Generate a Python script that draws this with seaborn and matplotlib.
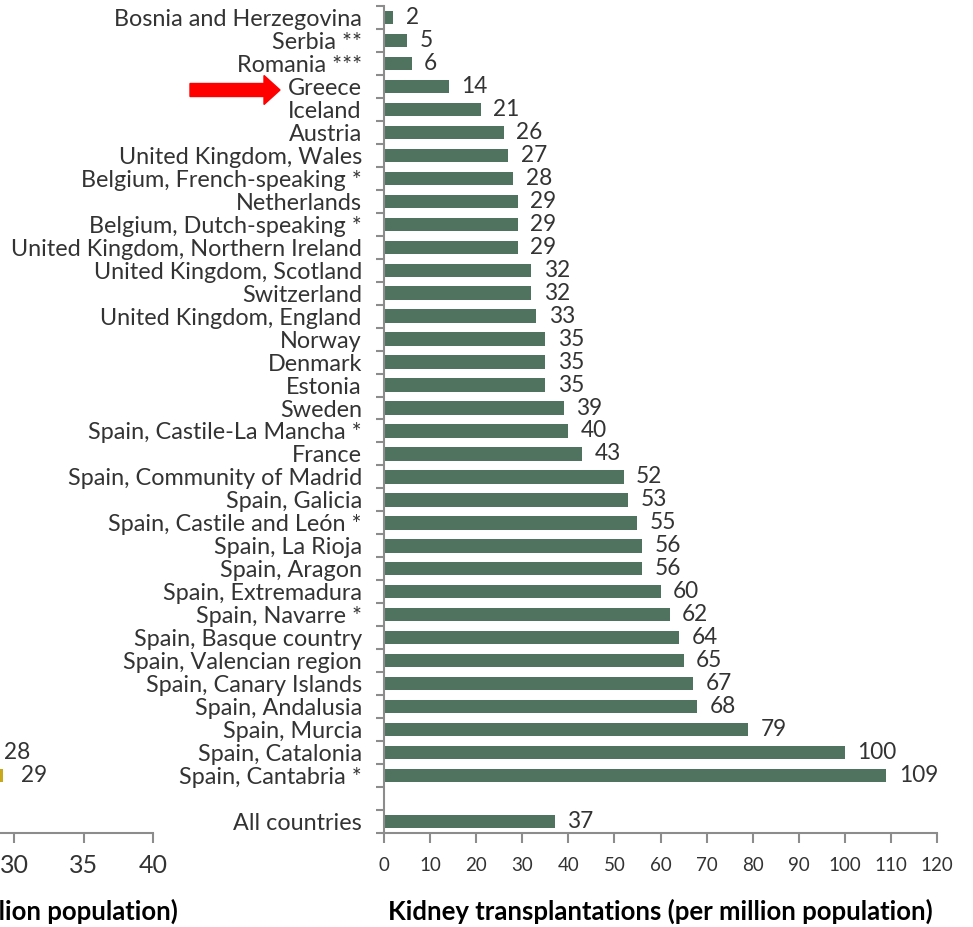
import numpy as np
import pandas as pd
import matplotlib
matplotlib.use("Agg")
import matplotlib.pyplot as plt
import matplotlib.ticker as ticker
from matplotlib.patches import FancyArrow
from matplotlib.transforms import IdentityTransform
import seaborn as sns

countries = ["Bosnia and Herzegovina", "Serbia **", "Romania ***", "Greece", "Iceland",
             "Austria", "United Kingdom, Wales", "Belgium, French-speaking *", "Netherlands",
             "Belgium, Dutch-speaking *", "United Kingdom, Northern Ireland",
             "United Kingdom, Scotland", "Switzerland", "United Kingdom, England", "Norway",
             "Denmark", "Estonia", "Sweden", "Spain, Castile-La Mancha *", "France",
             "Spain, Community of Madrid", "Spain, Galicia", "Spain, Castile and León *",
             "Spain, La Rioja", "Spain, Aragon", "Spain, Extremadura", "Spain, Navarre *",
             "Spain, Basque country", "Spain, Valencian region", "Spain, Canary Islands",
             "Spain, Andalusia", "Spain, Murcia", "Spain, Catalonia", "Spain, Cantabria *",
             "All countries"]
kidney_pmp = [2, 5, 6, 14, 21, 26, 27, 28, 29, 29, 29, 32, 32, 33, 35, 35, 35, 39, 40, 43,
              52, 53, 55, 56, 56, 60, 62, 64, 65, 67, 68, 79, 100, 109, 37]
# the cropped neighbour panel: only two bars reach into view
left_rows = ["Spain, Catalonia", "Spain, Cantabria *"]
left_pmp = [28.0, 29.2]

order = countries[:-1] + [" "] + countries[-1:]

W, H = 973, 927
plt.rcParams["font.family"] = ["Lato", "DejaVu Sans"]
text_c = "#333333"
axis_c = "#8c8c8c"
fig = plt.figure(figsize=(W / 100, H / 100), dpi=100)

def px_axes(x0, y0, x1, y1):
    return fig.add_axes([x0 / W, 1 - y1 / H, (x1 - x0) / W, (y1 - y0) / H])

# left (cropped) panel first so the main panel's labels draw over it
ax2 = px_axes(-403, 6, 153, 833)
ax = px_axes(384, 6, 937, 833)
ax2.patch.set_visible(False)
ax.patch.set_visible(False)

df = pd.DataFrame({"country": countries, "value": kidney_pmp})
sns.barplot(data=df, x="value", y="country", order=order, orient="h", color="#50735F",
            saturation=1, width=0.58, ax=ax)
ax.bar_label(ax.containers[0], labels=[str(int(b.get_width())) if b.get_width() > 0 else ""
                                        for b in ax.containers[0]],
             padding=9, fontsize=16.3, color=text_c)

ax.set_xlim(0, 120)
ax.set_ylim(len(order) - 0.5, -0.5)
ax.xaxis.set_major_locator(ticker.MultipleLocator(10))
ax.set_yticks(range(len(order)))
ax.set_yticklabels([o if o.strip() else "" for o in order])
ax.yaxis.set_minor_locator(ticker.FixedLocator(np.arange(-0.5, len(order), 1)))
ax.tick_params(axis="y", which="major", length=0, pad=16, labelsize=16.8, labelcolor=text_c)
ax.tick_params(axis="y", which="minor", length=6, color=axis_c, width=1.5)
ax.tick_params(axis="x", length=7, color=axis_c, width=1.5, labelsize=13.5, labelcolor=text_c, pad=10)
for s in ["top", "right"]:
    ax.spines[s].set_visible(False)
for s in ["left", "bottom"]:
    ax.spines[s].set_color(axis_c)
    ax.spines[s].set_linewidth(1.5)
ax.set_ylabel("")
ax.set_xlabel("Kidney transplantations (per million population)", fontsize=18.5,
              fontweight="bold", color="black", labelpad=18)

ldf = pd.DataFrame({"country": left_rows, "value": left_pmp})
sns.barplot(data=ldf, x="value", y="country", order=order, orient="h", color="#C9A91C",
            saturation=1, width=0.58, ax=ax2)
ax2.bar_label(ax2.containers[0], labels=[f"{v:.0f}" for v in left_pmp], padding=13,
              fontsize=16.3, color=text_c)
ax2.set_xlim(0, 40)
ax2.set_ylim(len(order) - 0.5, -0.5)
ax2.xaxis.set_major_locator(ticker.MultipleLocator(5))
ax2.set_yticks([])
ax2.set_ylabel("")
ax2.tick_params(axis="x", length=7, color=axis_c, width=1.5, labelsize=18, labelcolor=text_c, pad=8)
for s in ["top", "right", "left"]:
    ax2.spines[s].set_visible(False)
ax2.spines["bottom"].set_color(axis_c)
ax2.spines["bottom"].set_linewidth(1.5)
ax2.set_xlabel("Liver transplantations (per million population)", fontsize=18.5,
               fontweight="bold", color="black", ha="right")
ax2.xaxis.set_label_coords((178 + 403) / 556, -0.079)

fig.add_artist(FancyArrow(190, H - 90, 90, 0, width=13, head_width=29, head_length=16,
                          length_includes_head=True, color="#FF0000",
                          transform=IdentityTransform()))

fig.savefig("out.png", dpi=100, facecolor="white")
